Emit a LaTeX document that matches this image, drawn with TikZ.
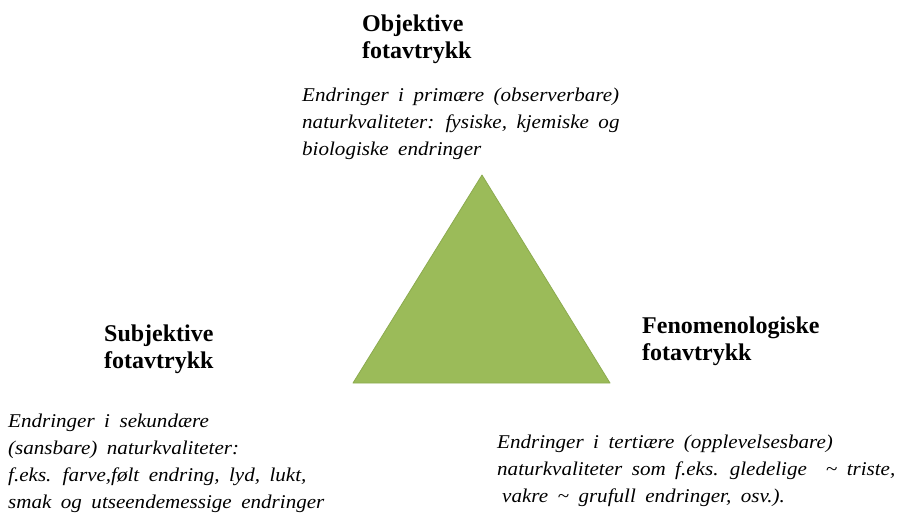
\documentclass[tikz,border=0pt]{standalone}
\usepackage{fontspec}
\setmainfont{Liberation Serif}
\newfontfamily\bodyFont[FakeStretch=1.08, WordSpace=1.8]{Liberation Serif}
\usepackage{tikz}
\usetikzlibrary{positioning}
\definecolor{triangleGreen}{HTML}{9BBB59}
\definecolor{triangleEdge}{HTML}{8CAB4F}
\tikzstyle{pixelGrid} = [x = 1pt, y = -1pt]
\tikzstyle{titleText} = [anchor=base west, inner sep=0pt, align=left, font=\fontsize{24}{27}\selectfont\bfseries]
\tikzstyle{bodyText} = [anchor=base west, inner sep=0pt, align=left, font=\bodyFont\fontsize{19.5}{27}\selectfont\itshape]
\tikzstyle{triangleStyle} = [fill=triangleGreen, draw=triangleEdge, line width=0.8pt, line join=round]

\begin{document}
\begin{tikzpicture}[pixelGrid]
\useasboundingbox (0,0) rectangle (914,517);
% triangle
\coordinate (apex) at (482,175);
\coordinate (leftCorner) at (353,383);
\coordinate (rightCorner) at (610,383);
\filldraw [triangleStyle] (apex) -- (leftCorner) -- (rightCorner) -- cycle;
% titles (anchored at the baseline of the last line)
\node [titleText] (objTitle) at (362,58) {Objektive\\fotavtrykk};
\node [titleText] (subTitle) at (104,368) {Subjektive\\fotavtrykk};
\node [titleText] (fenTitle) at (642,360) {Fenomenologiske\\fotavtrykk};
% descriptions
\node [bodyText] (objText) at (302,155) {Endringer i primære (observerbare)\\naturkvaliteter: fysiske, kjemiske og\\biologiske endringer};
\node [bodyText] (subText) at (8,508) {Endringer i sekundære\\(sansbare) naturkvaliteter:\\f.eks. farve,følt endring, lyd, lukt,\\smak og utseendemessige endringer};
\node [bodyText] (fenText) at (497,502) {Endringer i tertiære (opplevelsesbare)\\naturkvaliteter som f.eks. gledelige \ \textasciitilde{} triste,\\\hspace{5pt}vakre \textasciitilde{} grufull endringer, osv.).};
\end{tikzpicture}
\end{document}
